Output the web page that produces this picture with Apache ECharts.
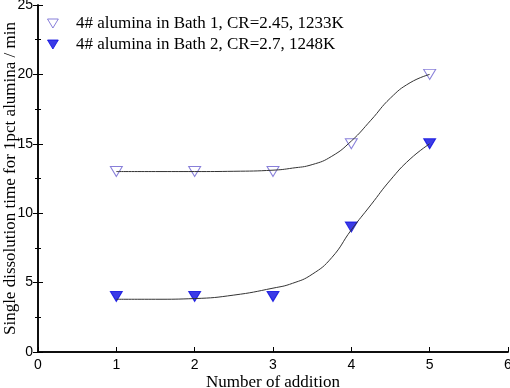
<!DOCTYPE html>
<html><head><meta charset="utf-8">
<script src="https://cdn.jsdelivr.net/npm/echarts@6/dist/echarts.min.js"></script>
<style>html,body{margin:0;padding:0;background:#fff}#c{width:510px;height:388px}</style>
</head><body><div id="c"></div>
<script>
const additions = [1, 2, 3, 4, 5];
const bath1Times = [13, 13, 13, 15, 20];
const bath2Times = [4, 4, 4, 9, 15];
const fitX = [1, 1.5, 2, 2.5, 3, 3.25, 3.5, 3.75, 4, 4.25, 4.5, 4.75, 5];
const fit1Y = [13.0, 13.0, 13.0, 13.02, 13.1, 13.25, 13.5, 14.1, 15.2, 16.7, 18.3, 19.4, 20.0];
const fit2Y = [3.8, 3.8, 3.85, 4.1, 4.6, 4.95, 5.6, 6.8, 8.8, 10.6, 12.4, 13.9, 15.0];
const name1 = '4# alumina in Bath 1, CR=2.45, 1233K';
const name2 = '4# alumina in Bath 2, CR=2.7, 1248K';

const pair = (xs, ys) => xs.map((x, i) => [x, ys[i]]);
const chart = echarts.init(document.getElementById('c'), null, {renderer: 'canvas'});
const axisLine = {show: true, lineStyle: {color: '#000', width: 1.5}};
const serif = 'Liberation Serif, Times New Roman, serif';
const sans = 'Liberation Sans, Arial, sans-serif';
const downTri = 'path://M0,0 L12,0 L6,10 Z';
chart.setOption({
  animation: false,
  grid: {left: 38, right: 2, top: 5, bottom: 36, containLabel: false, outerBoundsMode: 'none'},
  legend: {
    orient: 'vertical', left: 42, top: 10, itemGap: 4,
    itemWidth: 36, itemHeight: 9,
    data: [
      {name: name1, icon: downTri, itemStyle: {color: '#fff', borderColor: '#6a5fd0', borderWidth: 1}},
      {name: name2, icon: downTri, itemStyle: {color: '#0a0ae0', borderColor: '#0a0ae0', borderWidth: 1}}
    ],
    textStyle: {fontFamily: serif, fontSize: 17, color: '#000'}
  },
  xAxis: [{
    type: 'value', min: 0, max: 6, interval: 1,
    name: 'Number of addition', nameLocation: 'middle', nameGap: 22, nameMoveOverlap: false,
    nameTextStyle: {fontFamily: serif, fontSize: 17, color: '#000'},
    axisLine, axisTick: {inside: true, length: 5, lineStyle: {color: '#000'}},
    axisLabel: {fontFamily: sans, fontSize: 14, color: '#000', margin: 6},
    splitLine: {show: false}
  }, {
    type: 'value', position: 'top', min: 0, max: 6, interval: 1,
    axisLine, axisTick: {show: false}, axisLabel: {show: false}, splitLine: {show: false}
  }],
  yAxis: [{
    type: 'value', min: 0, max: 25, interval: 5,
    name: 'Single dissolution time for 1pct alumina / min', nameLocation: 'middle', nameGap: 19, nameMoveOverlap: false,
    nameTextStyle: {fontFamily: serif, fontSize: 17, color: '#000'},
    axisLine, axisTick: {inside: true, length: 5, lineStyle: {color: '#000'}},
    minorTick: {show: true, splitNumber: 2, length: 3, lineStyle: {color: '#000'}},
    axisLabel: {fontFamily: sans, fontSize: 14, color: '#000', margin: 5},
    splitLine: {show: false}
  }, {
    type: 'value', position: 'right', min: 0, max: 25, interval: 5,
    axisLine, axisTick: {inside: true, length: 5, lineStyle: {color: '#000'}},
    minorTick: {show: true, splitNumber: 2, length: 3, lineStyle: {color: '#000'}},
    axisLabel: {show: false}, splitLine: {show: false}
  }],
  series: [
    {
      name: 'fit1', type: 'line', smooth: true, showSymbol: false, symbol: 'none',
      data: pair(fitX, fit1Y), lineStyle: {color: '#333', width: 1}, silent: true
    },
    {
      name: 'fit2', type: 'line', smooth: true, showSymbol: false, symbol: 'none',
      data: pair(fitX, fit2Y), lineStyle: {color: '#333', width: 1}, silent: true
    },
    {
      name: name1, type: 'scatter', data: pair(additions, bath1Times),
      symbol: 'triangle', symbolRotate: 180, symbolSize: [12, 10],
      itemStyle: {color: '#fff', borderColor: '#6a5fd0', borderWidth: 1}
    },
    {
      name: name2, type: 'scatter', data: pair(additions, bath2Times),
      symbol: 'triangle', symbolRotate: 180, symbolSize: [12, 10],
      itemStyle: {color: '#0a0ae0', borderColor: '#0a0ae0', borderWidth: 1}
    }
  ]
});
</script></body></html>
